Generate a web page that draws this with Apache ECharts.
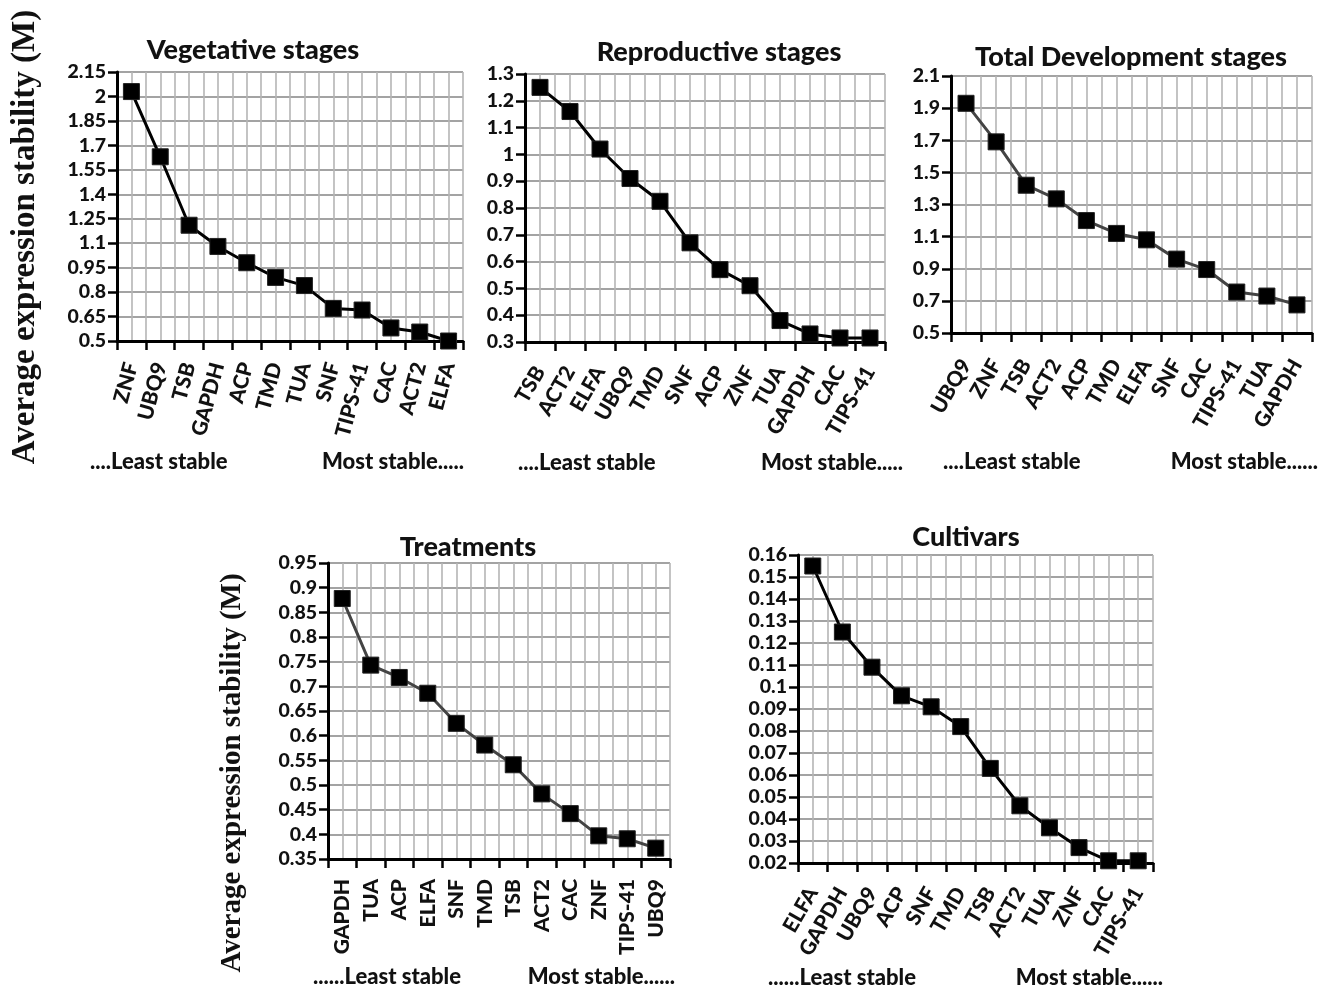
<!DOCTYPE html>
<html>
<head>
<meta charset="utf-8">
<script src="https://cdn.jsdelivr.net/npm/echarts@6/dist/echarts.min.js"></script>
<style>
html,body{margin:0;padding:0;background:#fff;}
#chart{width:1329px;height:993px;}
</style>
</head>
<body>
<div id="chart"></div>
<script>
// ---- Data ----
const vegCats = ['ZNF','UBQ9','TSB','GAPDH','ACP','TMD','TUA','SNF','TIPS-41','CAC','ACT2','ELFA'];
const vegVals = [2.03,1.63,1.21,1.08,0.98,0.89,0.84,0.70,0.69,0.58,0.555,0.50];
const vegTicks = [0.5,0.65,0.8,0.95,1.1,1.25,1.4,1.55,1.7,1.85,2,2.15];

const repCats = ['TSB','ACT2','ELFA','UBQ9','TMD','SNF','ACP','ZNF','TUA','GAPDH','CAC','TIPS-41'];
const repVals = [1.25,1.16,1.02,0.91,0.825,0.67,0.57,0.51,0.38,0.33,0.315,0.315];
const repTicks = [0.3,0.4,0.5,0.6,0.7,0.8,0.9,1,1.1,1.2,1.3];

const totCats = ['UBQ9','ZNF','TSB','ACT2','ACP','TMD','ELFA','SNF','CAC','TIPS-41','TUA','GAPDH'];
const totVals = [1.93,1.69,1.42,1.335,1.20,1.12,1.08,0.96,0.895,0.755,0.73,0.675];
const totTicks = [0.5,0.7,0.9,1.1,1.3,1.5,1.7,1.9,2.1];

const trtCats = ['GAPDH','TUA','ACP','ELFA','SNF','TMD','TSB','ACT2','CAC','ZNF','TIPS-41','UBQ9'];
const trtVals = [0.878,0.743,0.718,0.686,0.625,0.581,0.541,0.482,0.442,0.397,0.391,0.372];
const trtTicks = [0.35,0.4,0.45,0.5,0.55,0.6,0.65,0.7,0.75,0.8,0.85,0.9,0.95];

const culCats = ['ELFA','GAPDH','UBQ9','ACP','SNF','TMD','TSB','ACT2','TUA','ZNF','CAC','TIPS-41'];
const culVals = [0.155,0.125,0.109,0.096,0.091,0.082,0.063,0.046,0.036,0.027,0.021,0.021];
const culTicks = [0.02,0.03,0.04,0.05,0.06,0.07,0.08,0.09,0.1,0.11,0.12,0.13,0.14,0.15,0.16];

const panelTitles = ['Vegetative stages','Reproductive stages','Total Development stages','Treatments','Cultivars'];
const yAxisName = 'Average expression stability (M)';
const leastText = ['....Least stable','....Least stable','....Least stable','......Least stable','......Least stable'];
const mostText = ['Most stable.....','Most stable.....','Most stable......','Most stable......','Most stable......'];

// ---- Layout ----
const FONT = 'Lato, "Noto Sans", sans-serif';
const W = 900;
const panels = [
  {cats:vegCats, vals:vegVals, ticks:vegTicks, grid:{left:117,top:72,width:346,height:269}, rot:75, margin:22, line:'#000',
   title:[253,50], least:[90,462], most:[464,462]},
  {cats:repCats, vals:repVals, ticks:repTicks, grid:{left:525,top:74,width:360,height:268}, rot:60, margin:26, line:'#000',
   title:[719,52], least:[518,463], most:[903,463]},
  {cats:totCats, vals:totVals, ticks:totTicks, grid:{left:951,top:76,width:361,height:257}, rot:60, margin:28, line:'#444',
   title:[1131,57], least:[943,462], most:[1318,462]},
  {cats:trtCats, vals:trtVals, ticks:trtTicks, grid:{left:328,top:563,width:342,height:296}, rot:90, margin:20, line:'#444',
   title:[468,547], least:[313,977], most:[675,977]},
  {cats:culCats, vals:culVals, ticks:culTicks, grid:{left:798,top:555,width:355,height:308}, rot:60, margin:26, line:'#000',
   title:[966,537], least:[768,978], most:[1163,978]}
];
panelTitles.forEach((t,i)=>panels[i].titleText=t);

const grid=[], xAxis=[], yAxis=[], series=[], graphic=[];
panels.forEach((p,i)=>{
  grid.push(Object.assign({containLabel:false}, p.grid));
  const n = p.ticks.length-1;
  xAxis.push({
    type:'category', gridIndex:i, data:p.cats, boundaryGap:true, position:'bottom', z:5,
    axisLine:{show:true, lineStyle:{color:'#000', width:3}},
    axisTick:{show:true, length:9, lineStyle:{color:'#000', width:2.5}},
    axisLabel:{interval:0, rotate:p.rot, margin:p.margin, fontSize:21, fontWeight:W, color:'#111', fontFamily:FONT},
    splitLine:{show:false}
  });
  xAxis.push({
    type:'value', gridIndex:i, min:0, max:p.cats.length*2, interval:1, position:'top',
    axisLine:{show:false}, axisTick:{show:false}, axisLabel:{show:false},
    splitLine:{show:true, lineStyle:{color:'#b5b5b5', width:1.6}}
  });
  yAxis.push({
    type:'value', gridIndex:i, min:p.ticks[0], max:p.ticks[n], position:'left', z:5,
    axisLine:{show:true, lineStyle:{color:'#000', width:3}},
    axisTick:{show:true, length:9, customValues:p.ticks, lineStyle:{color:'#000', width:2.5}},
    axisLabel:{customValues:p.ticks, margin:11, fontSize:19.5, fontWeight:W, color:'#111', fontFamily:FONT},
    splitLine:{show:false}
  });
  yAxis.push({
    type:'value', gridIndex:i, min:0, max:n, interval:1, position:'right',
    axisLine:{show:false}, axisTick:{show:false}, axisLabel:{show:false},
    splitLine:{show:true, lineStyle:{color:'#858585', width:1.6}}
  });
  series.push({
    type:'line', xAxisIndex:2*i, yAxisIndex:2*i, data:p.vals, z:10,
    symbol:'rect', symbolSize:16, showSymbol:true,
    lineStyle:{color:p.line, width:3},
    itemStyle:{color:'#000', borderColor:'#222', borderWidth:1}
  });
  graphic.push({type:'text', x:p.title[0], y:p.title[1], style:{text:p.titleText, fontSize:27, fontWeight:W, fontFamily:FONT, fill:'#111', align:'center', verticalAlign:'middle'}});
  graphic.push({type:'text', x:p.least[0], y:p.least[1], style:{text:leastText[i], fontSize:22, fontWeight:W, fontFamily:FONT, fill:'#111', align:'left', verticalAlign:'middle'}});
  graphic.push({type:'text', x:p.most[0], y:p.most[1], style:{text:mostText[i], fontSize:22, fontWeight:W, fontFamily:FONT, fill:'#111', align:'right', verticalAlign:'middle'}});
});
graphic.push({type:'text', x:25, y:237, rotation:Math.PI/2, style:{text:yAxisName, fontSize:33, fontWeight:'bold', fontFamily:'"Liberation Serif", "DejaVu Serif", serif', fill:'#111', align:'center', verticalAlign:'middle'}});
graphic.push({type:'text', x:233, y:773, rotation:Math.PI/2, style:{text:yAxisName, fontSize:29, fontWeight:'bold', fontFamily:'"Liberation Serif", "DejaVu Serif", serif', fill:'#111', align:'center', verticalAlign:'middle'}});

const chart = echarts.init(document.getElementById('chart'), null, {renderer:'canvas'});
chart.setOption({
  animation:false,
  backgroundColor:'#fff',
  grid, xAxis, yAxis, series, graphic
});
</script>
</body>
</html>
